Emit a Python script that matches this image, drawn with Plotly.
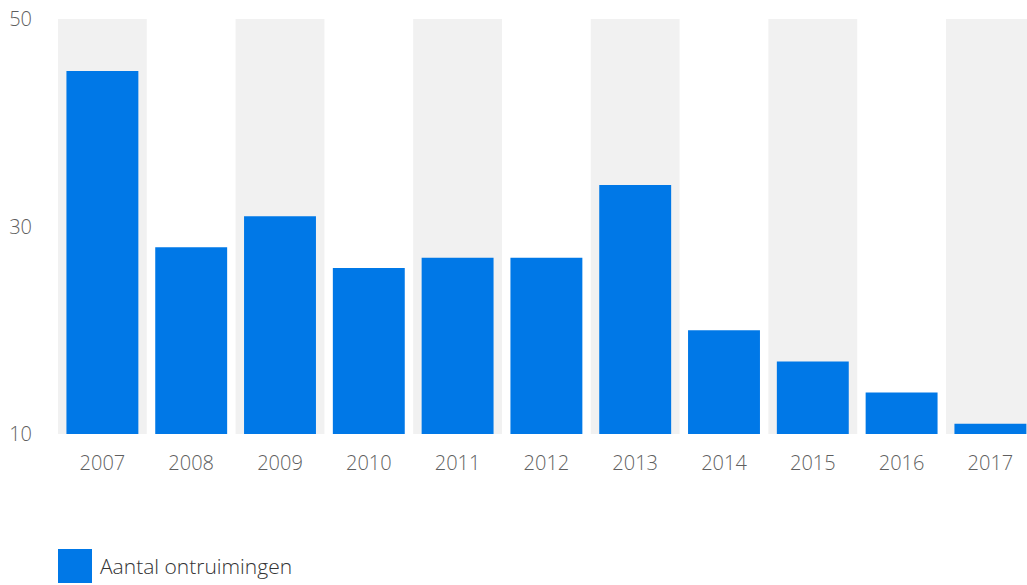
import plotly.graph_objects as go

years = ["2007", "2008", "2009", "2010", "2011", "2012", "2013", "2014", "2015", "2016", "2017"]
ontruimingen = [45, 28, 31, 26, 27, 27, 34, 20, 17, 14, 11]
series_name = "Aantal ontruimingen"
y_ticks = [10, 30, 50]

BLUE = "#0078e7"
BAND = "#f1f1f1"
FONT = "Open Sans"
PLOT_W = 969
CAT_W = 88.8

fig = go.Figure()
fig.add_trace(go.Bar(
    x=years, y=ontruimingen, name=series_name,
    marker=dict(color=BLUE, line=dict(width=0)),
    showlegend=False, hoverinfo="x+y",
))

shapes = []
for i, _ in enumerate(years):
    if i % 2 == 0:
        shapes.append(dict(type="rect", xref="x", yref="y", x0=i - 0.5, x1=i + 0.5,
                           y0=y_ticks[0], y1=y_ticks[-1], fillcolor=BAND,
                           line=dict(width=0), layer="below"))
# legend swatch
shapes.append(dict(type="rect", xref="paper", yref="paper", x0=0, x1=34 / PLOT_W,
                   y0=-(583 - 434) / 415, y1=-(549 - 434) / 415,
                   fillcolor=BLUE, line=dict(width=0)))

fig.update_layout(
    width=1027, height=585,
    margin=dict(l=58, r=0, t=19, b=151),
    paper_bgcolor="white", plot_bgcolor="white",
    bargap=0.19,
    shapes=shapes,
    font=dict(family=FONT, size=20, color="#5f5f5f"),
    xaxis=dict(type="category", showgrid=False, zeroline=False, showline=False,
               ticks="", tickfont=dict(family=FONT, size=20, color="#5f5f5f", weight=300),
               ticklabelstandoff=15, range=[-0.5, -0.5 + PLOT_W / CAT_W]),
    yaxis=dict(range=[y_ticks[0], y_ticks[-1]], tickvals=y_ticks, showgrid=False,
               zeroline=False, showline=False, ticks="",
               tickfont=dict(family=FONT, size=20, color="#5f5f5f", weight=300),
               ticklabelstandoff=25),
    annotations=[dict(text=series_name, xref="paper", yref="paper",
                      x=40 / PLOT_W, y=-(566 - 434) / 415, xanchor="left", yanchor="middle",
                      showarrow=False,
                      font=dict(family=FONT, size=21, color="#333333", weight=300))],
)

fig.write_html("out.html")
